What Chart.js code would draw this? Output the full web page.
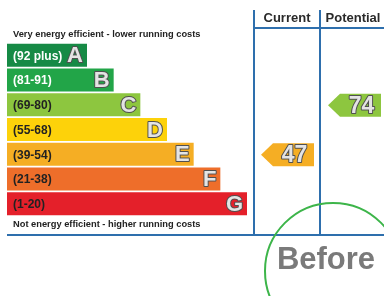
<!DOCTYPE html>
<html lang="en">
<head>
<meta charset="UTF-8">
<title>Energy Efficiency Rating</title>
<style>
    body { margin: 0; background: #fff; }
    .chart-box { width: 384px; height: 296px; }
</style>
</head>
<body>
<div class="chart-box">
    <canvas id="epcChart"></canvas>
</div>

<script src="https://cdn.jsdelivr.net/npm/chart.js"></script>
<script>
// rating bands
const bands = ['A', 'B', 'C', 'D', 'E', 'F', 'G'];
const bandRanges = ['(92 plus)', '(81-91)', '(69-80)', '(55-68)', '(39-54)', '(21-38)', '(1-20)'];
const bandLength = [3, 4, 5, 6, 7, 8, 9];
const bandColors = ['#168a45', '#22a548', '#8dc63f', '#fdd20a', '#f5ae24', '#ee6e2a', '#e4202a'];
const bandTextColors = ['#ffffff', '#ffffff', '#222222', '#222222', '#222222', '#222222', '#222222'];

// ratings
const ratingNames = ['Current', 'Potential'];
const ratingValues = [47, 74];
const bandMins = [92, 81, 69, 55, 39, 21, 1];

const topCaption = 'Very energy efficient - lower running costs';
const bottomCaption = 'Not energy efficient - higher running costs';
const stamp = 'Before';

function bandOf(v) {
    for (let i = 0; i < bandMins.length; i++) {
        if (v >= bandMins[i]) return i;
    }
    return bandMins.length - 1;
}

function outlinedText(ctx, txt, x, y) {
    ctx.lineWidth = 2;
    ctx.lineJoin = 'round';
    ctx.strokeStyle = '#505050';
    ctx.strokeText(txt, x, y);
    ctx.fillStyle = '#e4e4e4';
    ctx.fillText(txt, x, y);
}

const epcPlugin = {
    id: 'epc',
    afterDatasetsDraw(chart) {
        const ctx = chart.ctx;
        const yScale = chart.scales.y;
        const bars = chart.getDatasetMeta(0).data;
        const blue = '#2e6fad';
        ctx.save();

        // band labels and letters
        bars.forEach((bar, i) => {
            ctx.textBaseline = 'middle';
            ctx.textAlign = 'left';
            ctx.font = 'bold 12px "Liberation Sans", Arial, sans-serif';
            ctx.fillStyle = bandTextColors[i];
            ctx.fillText(bandRanges[i], 13, bar.y + 1);

            ctx.textAlign = 'right';
            ctx.font = 'bold 22px "Liberation Sans", Arial, sans-serif';
            outlinedText(ctx, bands[i], bar.x - 4, bar.y + 1);
        });

        // captions
        ctx.textAlign = 'left';
        ctx.textBaseline = 'middle';
        ctx.font = 'bold 9.3px "Liberation Sans", Arial, sans-serif';
        ctx.fillStyle = '#222';
        ctx.fillText(topCaption, 13, 34);
        ctx.fillText(bottomCaption, 13, 224);

        // column lines
        ctx.strokeStyle = blue;
        ctx.lineWidth = 2;
        ctx.beginPath();
        ctx.moveTo(254, 10); ctx.lineTo(254, 235);
        ctx.moveTo(320, 10); ctx.lineTo(320, 235);
        ctx.moveTo(254, 28); ctx.lineTo(384, 28);
        ctx.moveTo(7, 235); ctx.lineTo(384, 235);
        ctx.stroke();

        // column headers
        ctx.textAlign = 'center';
        ctx.font = 'bold 13px "Liberation Sans", Arial, sans-serif';
        ctx.fillStyle = '#2a2a2a';
        ctx.fillText(ratingNames[0], 287, 18);
        ctx.fillText(ratingNames[1], 353, 18);

        // rating arrows
        const cols = [[261, 314], [328, 381]];
        ratingValues.forEach((v, k) => {
            const b = bandOf(v);
            const bar = bars[b];
            const yc = yScale.getPixelForValue(b) + 0.5;
            const h = bar.height;
            const x0 = cols[k][0], x1 = cols[k][1];
            ctx.fillStyle = bandColors[b];
            ctx.beginPath();
            ctx.moveTo(x0, yc);
            ctx.lineTo(x0 + 12, yc - h / 2);
            ctx.lineTo(x1, yc - h / 2);
            ctx.lineTo(x1, yc + h / 2);
            ctx.lineTo(x0 + 12, yc + h / 2);
            ctx.closePath();
            ctx.fill();
            ctx.textAlign = 'center';
            ctx.textBaseline = 'middle';
            ctx.font = 'bold 23px "Liberation Sans", Arial, sans-serif';
            outlinedText(ctx, String(v), (x0 + 12 + x1) / 2 + 1, yc + 1);
        });

        // stamp
        ctx.strokeStyle = '#3db54a';
        ctx.lineWidth = 2;
        ctx.beginPath();
        ctx.arc(333, 271, 68, 0, Math.PI * 2);
        ctx.stroke();
        ctx.textAlign = 'center';
        ctx.textBaseline = 'alphabetic';
        ctx.font = 'bold 31px "Liberation Sans", Arial, sans-serif';
        ctx.fillStyle = '#7a7a7a';
        ctx.fillText(stamp, 326, 269);

        ctx.restore();
    }
};

new Chart(document.getElementById('epcChart'), {
    type: 'bar',
    data: {
        labels: bands,
        datasets: [{
            data: bandLength,
            backgroundColor: bandColors,
            borderWidth: 0,
            barPercentage: 0.93,
            categoryPercentage: 1
        }]
    },
    options: {
        indexAxis: 'y',
        responsive: true,
        maintainAspectRatio: false,
        animation: false,
        layout: { padding: { left: 7, right: 137, top: 43, bottom: 80 } },
        scales: {
            x: { display: false, min: 0, max: 9 },
            y: { display: false }
        },
        plugins: {
            legend: { display: false },
            tooltip: { enabled: false }
        }
    },
    plugins: [epcPlugin]
});
</script>
</body>
</html>
